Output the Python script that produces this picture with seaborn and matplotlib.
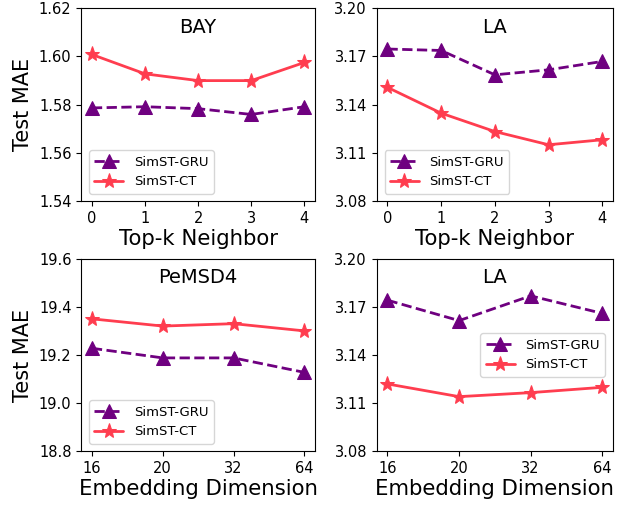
import matplotlib
matplotlib.use("Agg")
import matplotlib.pyplot as plt
import seaborn as sns
import pandas as pd

sns.set_style("ticks")
plt.rcParams['font.family'] = ['DejaVu Sans']
plt.rcParams.update({
    "text.color": "black", "axes.labelcolor": "black",
    "xtick.color": "black", "ytick.color": "black",
    "axes.edgecolor": "black", "xtick.major.size": 3.5, "ytick.major.size": 3.5,
})

topk = ["0", "1", "2", "3", "4"]
emb = ["16", "20", "32", "64"]

bay_gru = [1.5787, 1.5792, 1.5784, 1.5760, 1.5792]
bay_ct = [1.6008, 1.5928, 1.5900, 1.5900, 1.5975]
la_k_gru = [3.1746, 3.1737, 3.1586, 3.1617, 3.1669]
la_k_ct = [3.1508, 3.1348, 3.1234, 3.1152, 3.1183]
pems_gru = [19.228, 19.188, 19.188, 19.128]
pems_ct = [19.350, 19.320, 19.330, 19.300]
la_e_gru = [3.1741, 3.1614, 3.1768, 3.1659]
la_e_ct = [3.1220, 3.1141, 3.1166, 3.1199]

series_names = ["SimST-GRU", "SimST-CT"]
titles = ["BAY", "LA", "PeMSD4", "LA"]
xlabels = ["Top-k Neighbor", "Top-k Neighbor", "Embedding Dimension", "Embedding Dimension"]
yticks = [
    [1.54, 1.56, 1.58, 1.60, 1.62],
    [3.08, 3.11, 3.14, 3.17, 3.20],
    [18.8, 19.0, 19.2, 19.4, 19.6],
    [3.08, 3.11, 3.14, 3.17, 3.20],
]
yfmt = ["{:.2f}", "{:.2f}", "{:.1f}", "{:.2f}"]

panels = [
    (topk, bay_gru, bay_ct),
    (topk, la_k_gru, la_k_ct),
    (emb, pems_gru, pems_ct),
    (emb, la_e_gru, la_e_ct),
]
legend_locs = ["lower left", "lower left", "lower left", "center right"]

purple = "#6f0080"
red = "#ff3d4f"

fig = plt.figure(figsize=(6.3, 5.05), dpi=100)
rects = [
    [0.129, 0.601, 0.371, 0.383],
    [0.598, 0.601, 0.375, 0.383],
    [0.129, 0.106, 0.371, 0.382],
    [0.598, 0.106, 0.375, 0.382],
]

for i, (xs, g, c) in enumerate(panels):
    ax = fig.add_axes(rects[i])
    df = pd.DataFrame({
        "x": xs + xs,
        "y": g + c,
        "model": [series_names[0]] * len(xs) + [series_names[1]] * len(xs),
    })
    sns.lineplot(data=df[df.model == series_names[0]], x="x", y="y", ax=ax,
                 color=purple, linestyle="--", linewidth=2,
                 marker="^", markersize=10, markeredgecolor=purple,
                 label=series_names[0], sort=False)
    sns.lineplot(data=df[df.model == series_names[1]], x="x", y="y", ax=ax,
                 color=red, linewidth=2,
                 marker="*", markersize=11, markeredgecolor=red,
                 label=series_names[1], sort=False)
    n = len(xs)
    ax.set_xlim(-0.05 * (n - 1), (n - 1) * 1.05)
    ax.set_ylim(yticks[i][0], yticks[i][-1])
    ax.set_yticks(yticks[i])
    ax.set_yticklabels([yfmt[i].format(v) for v in yticks[i]], fontsize=10.5)
    ax.tick_params(axis="x", labelsize=10.5)
    ax.set_xlabel(xlabels[i], fontsize=15.3, labelpad=2)
    if i % 2 == 0:
        ax.set_ylabel("Test MAE", fontsize=15)
    else:
        ax.set_ylabel("")
    ax.text(0.5, 0.9, titles[i], transform=ax.transAxes, ha="center",
            va="center", fontsize=14)
    ax.legend(loc=legend_locs[i], fontsize=9.5, handlelength=2.2,
              borderaxespad=0.6)

fig.savefig("out.png", dpi=100)
